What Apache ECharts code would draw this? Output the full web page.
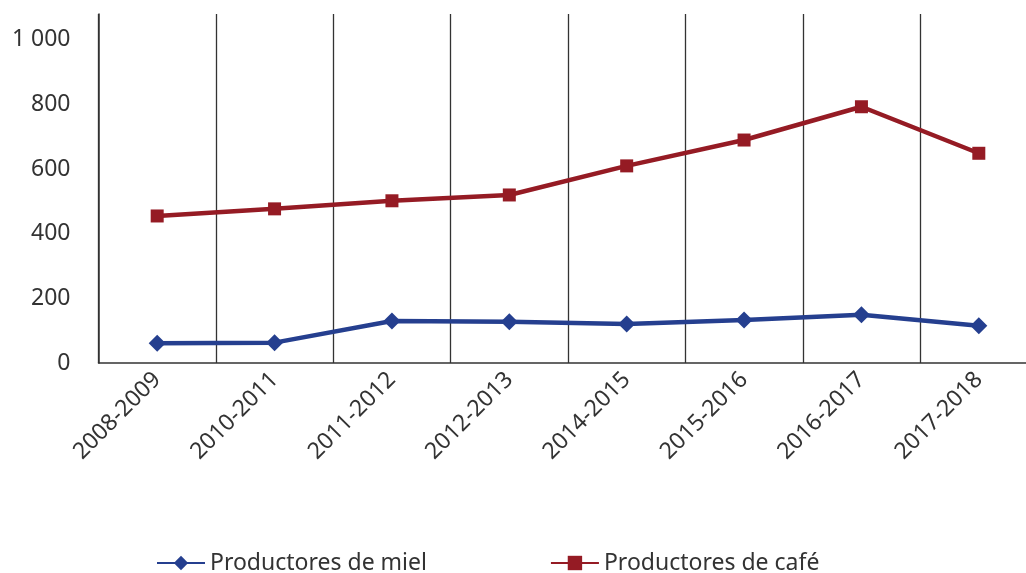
<!DOCTYPE html>
<html><head><meta charset="utf-8">
<script src="https://cdn.jsdelivr.net/npm/echarts@6/dist/echarts.min.js"></script>
<style>html,body{margin:0;padding:0;background:#fff}#c{width:1026px;height:573px}</style>
</head><body><div id="c"></div>
<script>
const categories = ['2008-2009','2010-2011','2011-2012','2012-2013','2014-2015','2015-2016','2016-2017','2017-2018'];
const miel = [61, 63, 130, 128, 121, 133, 149, 115];
const cafe = [455, 477, 502, 520, 610, 690, 793, 649];
const yTicks = [0, 200, 400, 600, 800, 1000];
const seriesNames = ['Productores de miel', 'Productores de café'];

const chart = echarts.init(document.getElementById('c'));
const font = '"Noto Sans", sans-serif';
chart.setOption({
  animation: false,
  grid: { left: 98.5, width: 939, top: 14, height: 349, outerBoundsMode: 'none', containLabel: false },
  legend: {
    top: 551, left: 156, padding: 0,
    itemWidth: 48, itemHeight: 18, itemGap: 123,
    textStyle: { fontFamily: font, fontSize: 23, color: '#333', lineHeight: 24 },
    data: seriesNames
  },
  xAxis: {
    type: 'category', data: categories, boundaryGap: true,
    axisLine: { lineStyle: { color: '#333', width: 1.5 } },
    axisTick: { show: false },
    splitLine: { show: true, lineStyle: { color: '#333', width: 1.3 } },
    axisLabel: { rotate: 45, fontFamily: font, fontSize: 23, color: '#333', margin: 13, interval: 0 }
  },
  yAxis: {
    type: 'value', min: 0, max: 1080, interval: 200,
    axisLine: { show: true, lineStyle: { color: '#333', width: 1.5 } },
    axisTick: { show: false },
    splitLine: { show: false },
    axisLabel: {
      fontFamily: font, fontSize: 23, color: '#333', margin: 28,
      formatter: v => yTicks.indexOf(v) < 0 ? '' : (v >= 1000 ? (String(v).slice(0, -3) + ' ' + String(v).slice(-3)) : String(v))
    }
  },
  series: [
    { name: seriesNames[0], type: 'line', data: miel, symbol: 'diamond', symbolSize: 17,
      itemStyle: { color: '#253f8f' }, lineStyle: { color: '#253f8f', width: 4.5 } },
    { name: seriesNames[1], type: 'line', data: cafe, symbol: 'rect', symbolSize: 13,
      itemStyle: { color: '#951b24' }, lineStyle: { color: '#951b24', width: 4.5 } }
  ]
});
</script></body></html>
